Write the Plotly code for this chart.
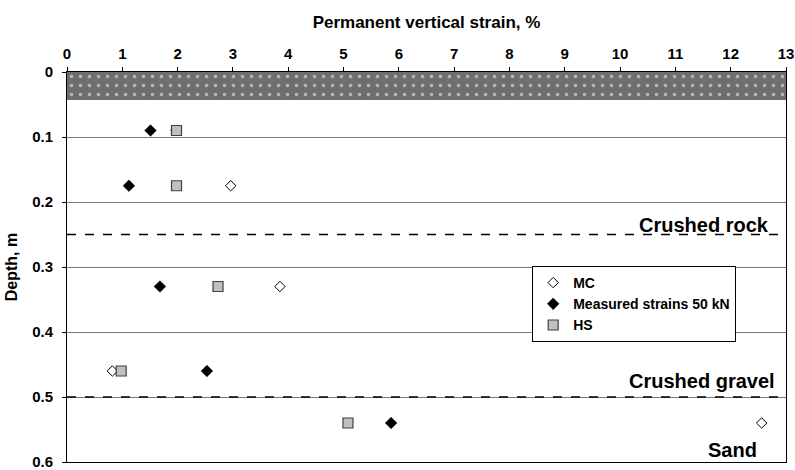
import plotly.graph_objects as go

# Data
mc_x = [1.97, 2.96, 3.85, 0.82, 12.56]
mc_y = [0.09, 0.175, 0.33, 0.46, 0.54]
meas_x = [1.51, 1.12, 1.68, 2.53, 5.86]
meas_y = [0.09, 0.175, 0.33, 0.46, 0.54]
hs_x = [1.98, 1.98, 2.73, 0.98, 5.08]
hs_y = [0.09, 0.175, 0.33, 0.46, 0.54]
layer_bounds = [0.25, 0.5]
layer_labels = ["Crushed rock", "Crushed gravel", "Sand"]
x_ticks = list(range(0, 14))
y_ticks = [0, 0.1, 0.2, 0.3, 0.4, 0.5, 0.6]
band_depth = 0.043

FONT = "Liberation Sans, Arial, sans-serif"

fig = go.Figure()

# hatched surface band
fig.add_trace(go.Bar(
    x=[13], y=[band_depth / 2], base=0, width=[band_depth], orientation="h",
    marker=dict(color="#6e6e6e", line=dict(width=0),
                pattern=dict(shape=".", fgcolor="white", bgcolor="#6e6e6e", size=9, solidity=0.12)),
    showlegend=False, hoverinfo="skip"))

fig.add_trace(go.Scatter(
    x=mc_x, y=mc_y, mode="markers", name="MC",
    marker=dict(symbol="diamond", size=8, color="white", line=dict(color="black", width=1))))
fig.add_trace(go.Scatter(
    x=meas_x, y=meas_y, mode="markers", name="Measured strains 50 kN",
    marker=dict(symbol="diamond", size=9, color="black", line=dict(color="black", width=0.5))))
fig.add_trace(go.Scatter(
    x=hs_x, y=hs_y, mode="markers", name="HS",
    marker=dict(symbol="square", size=10, color="#c0c0c0", line=dict(color="#404040", width=1.2))))

shapes = []
for yb in layer_bounds:
    shapes.append(dict(type="line", xref="x", yref="y", x0=0, x1=13, y0=yb, y1=yb,
                       line=dict(color="black", width=1.5, dash="dash"), layer="above"))
fig.update_layout(shapes=shapes)

ann_font = dict(family=FONT, size=20, color="black")
fig.add_annotation(x=12.72, y=0.25, text="<b>Crushed rock</b>", showarrow=False,
                   xanchor="right", yanchor="bottom", yshift=-3, font=ann_font)
fig.add_annotation(x=12.84, y=0.5, text="<b>Crushed gravel</b>", showarrow=False,
                   xanchor="right", yanchor="bottom", yshift=3, font=ann_font)
fig.add_annotation(x=12.51, y=0.581, text="<b>Sand</b>", showarrow=False,
                   xanchor="right", yanchor="middle", font=ann_font)

fig.update_layout(
    width=795, height=470,
    margin=dict(l=67, r=9, t=72, b=8),
    plot_bgcolor="white", paper_bgcolor="white",
    font=dict(family=FONT, size=15, color="black"),
    bargap=0,
    xaxis=dict(side="top", range=[0, 13], tickvals=x_ticks, ticktext=[f"<b>{v}</b>" for v in x_ticks],
               showgrid=False, zeroline=False, showline=True, linecolor="black", linewidth=1,
               mirror=True, ticks="outside", ticklen=4, tickcolor="black", automargin=False,
               ticklabelstandoff=2, tickfont=dict(size=15),
               title=dict(text="<b>Permanent vertical strain, %</b>", standoff=12,
                          font=dict(size=17))),
    yaxis=dict(range=[0.6, 0], tickvals=y_ticks, ticktext=[f"<b>{v:g}</b>" for v in y_ticks],
               showgrid=True, gridcolor="#7a7a7a", gridwidth=1, zeroline=False,
               showline=True, linecolor="black", linewidth=1, mirror=True, automargin=False,
               ticks="outside", ticklen=4, tickcolor="black",
               ticklabelstandoff=6, tickfont=dict(size=15), ticklabeloverflow="allow",
               title=dict(text="<b>Depth, m</b>", standoff=10, font=dict(size=16))),
    legend=dict(x=0.647, y=0.5026, xanchor="left", yanchor="top",
                bgcolor="white", bordercolor="black", borderwidth=1,
                font=dict(family=FONT, size=14, color="black"),
                tracegroupgap=0, itemsizing="trace", itemwidth=30),
)
for tr in fig.data:
    if tr.name:
        tr.name = f"<b>{tr.name}</b>"

fig.write_html("out.html")
